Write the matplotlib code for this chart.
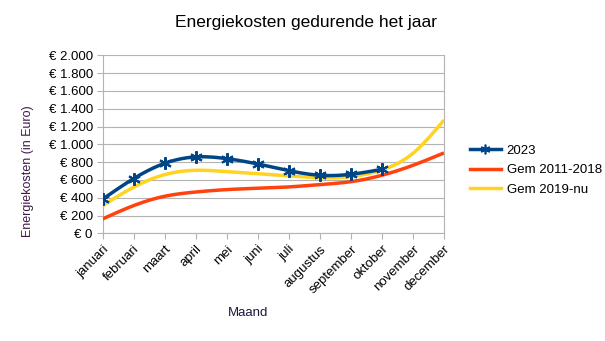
import numpy as np
import matplotlib
matplotlib.use("Agg")
import matplotlib.pyplot as plt
from matplotlib.ticker import FuncFormatter
from matplotlib.lines import Line2D

months = ["januari", "februari", "maart", "april", "mei", "juni", "juli",
          "augustus", "september", "oktober", "november", "december"]
v2023 = [382, 614, 786, 858, 839, 779, 704, 652, 663, 719]
gem_2011_2018 = [161, 311, 416, 464, 491, 506, 521, 547, 580, 652, 764, 903]
gem_2019_nu = [311, 517, 659, 708, 693, 670, 644, 625, 637, 712, 899, 1273]

plt.rcParams['font.family'] = ['Liberation Sans', 'DejaVu Sans']


def smooth(y, n=20):
    """Natural cubic spline through the points, for drawing only."""
    y = np.asarray(y, float)
    x = np.arange(len(y), dtype=float)
    m = len(y)
    A = np.zeros((m, m)); b = np.zeros(m)
    A[0, 0] = A[-1, -1] = 1
    for i in range(1, m - 1):
        A[i, i - 1] = 1; A[i, i] = 4; A[i, i + 1] = 1
        b[i] = 6 * (y[i + 1] - 2 * y[i] + y[i - 1])
    M = np.linalg.solve(A, b)
    xs, ys = [], []
    for i in range(m - 1):
        t = np.linspace(0, 1, n, endpoint=(i == m - 2))
        yy = ((1 - t) * y[i] + t * y[i + 1]
              + ((1 - t) ** 3 - (1 - t)) * M[i] / 6
              + (t ** 3 - t) * M[i + 1] / 6)
        xs.append(x[i] + t); ys.append(yy)
    return np.concatenate(xs), np.concatenate(ys)


fig = plt.figure(figsize=(6.05, 3.41), dpi=100)
ax = fig.add_axes([102.5 / 605, 1 - 233.3 / 341, (444 - 102.5) / 605, (233.3 - 55.3) / 341])

c2023 = '#004586'
cred = '#ff420e'
cyel = '#ffd320'

x = np.arange(len(months))
sx, sy = smooth(gem_2011_2018)
ax.plot(sx, sy, color=cred, lw=2.5, solid_capstyle='butt', zorder=3)
sx, sy = smooth(gem_2019_nu)
ax.plot(sx, sy, color=cyel, lw=2.5, solid_capstyle='butt', zorder=3)
sx, sy = smooth(v2023)
ax.plot(sx, sy, color=c2023, lw=2.5, solid_capstyle='butt', zorder=4)
ax.plot(x[:len(v2023)], v2023, linestyle='none', marker=(6, 2, 0), ms=9,
        mew=1.5, color=c2023, zorder=5)

ax.set_xlim(0, len(months) - 1)
ax.set_ylim(0, 2000)
ax.set_yticks(np.arange(0, 2001, 200))
ax.yaxis.set_major_formatter(FuncFormatter(
    lambda v, p: "€ " + f"{int(v):,}".replace(",", ".")))
ax.set_xticks(x)
ax.set_xticklabels(months, rotation=45, ha='right', rotation_mode='anchor',
                   fontsize=9.5)
ax.tick_params(axis='y', labelsize=9.5, length=4, color='#b3b3b3', pad=3)
ax.tick_params(axis='x', length=4, color='#b3b3b3', pad=3)
ax.grid(axis='y', color='#b3b3b3', lw=0.8)
ax.set_axisbelow(True)
ax.spines['top'].set_visible(False)
for s in ['bottom', 'left', 'right']:
    ax.spines[s].set_color('#b3b3b3')

fig.text(28 / 605, 1 - 171 / 341, "Energiekosten (in Euro)", rotation=90,
         ha='center', va='center', color='#3e1a48', fontsize=9)
fig.text(248 / 605, 1 - 313 / 341, "Maand", ha='center', va='center',
         fontsize=9.5, color='#1a1a3a')
fig.text(306 / 605, 1 - 22 / 341, "Energiekosten gedurende het jaar",
         ha='center', va='center', fontsize=12.5)

handles = [
    Line2D([], [], color=c2023, lw=2.5, marker=(6, 2, 0), ms=7, mew=1.2),
    Line2D([], [], color=cred, lw=2.5),
    Line2D([], [], color=cyel, lw=2.5),
]
fig.legend(handles, ["2023", "Gem 2011-2018", "Gem 2019-nu"],
           loc='center left', bbox_to_anchor=(463 / 605, 1 - 170 / 341),
           frameon=False, fontsize=9.5, handlelength=2.4, handletextpad=0.4,
           labelspacing=0.55, borderpad=0)

fig.savefig("out.png", dpi=100)
